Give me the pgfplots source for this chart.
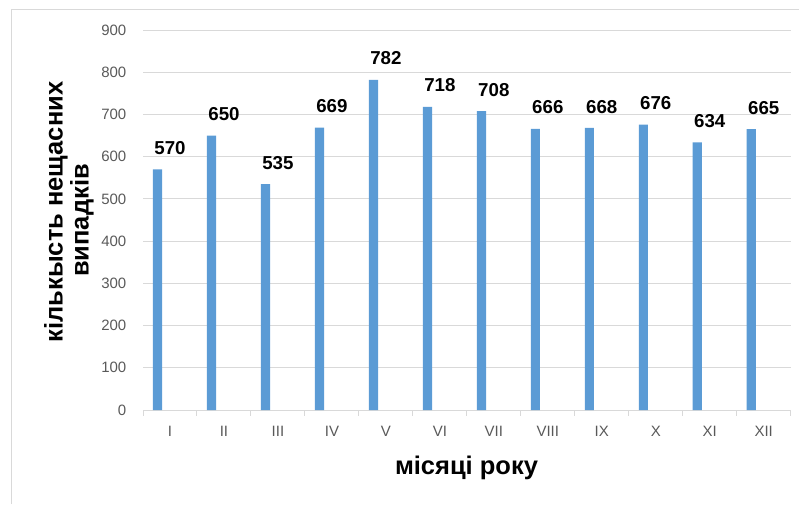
\documentclass[border=0pt]{standalone}
\usepackage{pgfplots}
\pgfplotsset{compat=1.18}
\usepackage{fontspec}
\setmainfont{Liberation Sans}
\definecolor{barblue}{HTML}{5B9BD5}
\definecolor{gridgray}{HTML}{D9D9D9}
\definecolor{ticktext}{HTML}{595959}
\begin{document}
\begin{tikzpicture}[x=1pt,y=1pt]
\useasboundingbox (0,0) rectangle (799,504);
\draw[gridgray, line width=1pt] (11,0) -- (11,494.5) -- (799,494.5);
\begin{axis}[
  at={(143pt,94pt)}, anchor=south west,
  scale only axis, width=647.7pt, height=380pt,
  xmin=-0.5, xmax=11.5, ymin=0, ymax=900,
  ytick={0,100,...,900},
  xtick={0,...,11},
  xticklabels={I,II,III,IV,V,VI,VII,VIII,IX,X,XI,XII},
  minor xtick={-0.5,0.5,...,11.5},
  major tick length=0pt,
  minor tick length=5.5pt,
  tick align=outside,
  axis lines*=left,
  y axis line style={draw=none},
  x axis line style={gridgray, line width=1pt},
  minor tick style={gridgray, line width=1pt},
  ymajorgrids, grid style={gridgray, line width=1pt},
  /pgf/number format/assume math mode=true,
  ticklabel style={font=\fontsize{15}{15}\selectfont, text=ticktext},
  yticklabel style={inner sep=0pt, xshift=-16.5pt},
  xticklabel style={inner sep=0pt, yshift=-16pt},
  clip=false,
  nodes near coords,
  nodes near coords style={font=\bfseries\fontsize{18.7}{18.7}\selectfont, text=black, anchor=south, inner sep=0pt, yshift=14.5pt},
]
\addplot[ybar, fill=barblue, draw=none, bar width=0.17, bar shift=-0.23]
  coordinates {(0,570) (1,650) (2,535) (3,669) (4,782) (5,718) (6,708) (7,666) (8,668) (9,676) (10,634) (11,665)};
\end{axis}
\node[rotate=90, anchor=base, font=\bfseries\fontsize{25.5}{25.5}\selectfont] at (62.5,292) {кількысть нещасних};
\node[rotate=90, anchor=base, font=\bfseries\fontsize{25.5}{25.5}\selectfont] at (88.5,283.5) {випадків};
\node[anchor=base, font=\bfseries\fontsize{25.5}{25.5}\selectfont] at (466.5,29.7) {місяці року};
\end{tikzpicture}
\end{document}
